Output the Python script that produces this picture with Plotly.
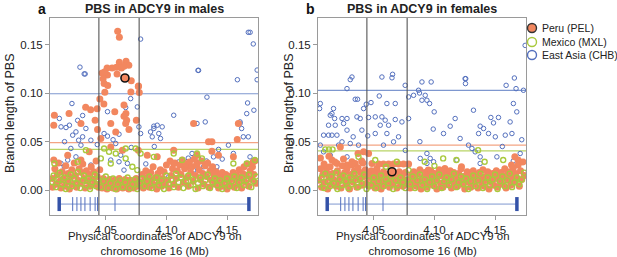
import plotly.graph_objects as go

# ---------------- data (Mb, PBS) ----------------
X_RANGE = [4.004, 4.1755]
Y_RANGE = [-0.0258, 0.1778]
x_ticks = [4.05, 4.10, 4.15]
y_ticks = [0.00, 0.05, 0.10, 0.15]
region_bounds = [4.0443, 4.0775]

# significance thresholds (PEL, MXL, CHB)
male_thresholds = [0.049, 0.042, 0.0995]
female_thresholds = [0.0464, 0.0405, 0.103]

gene_span = [4.0116, 4.168]
gene_exons = [4.0227, 4.0262, 4.0295, 4.0328, 4.0371, 4.0412, 4.0432, 4.0576]

male_lead = (4.0658, 0.1158)
female_lead = (4.065, 0.0189)

males_pel = [
    (4.0598, 0.164), (4.0612, 0.158), (4.0612, 0.132), (4.0667, 0.133), (4.069, 0.129),
    (4.0588, 0.127), (4.0629, 0.126), (4.0552, 0.126), (4.0511, 0.126), (4.065, 0.128),
    (4.047, 0.121), (4.0514, 0.119), (4.0593, 0.120), (4.071, 0.113), (4.0478, 0.115),
    (4.0486, 0.110), (4.0516, 0.108), (4.077, 0.1075), (4.0707, 0.1013), (4.0776, 0.1007),
    (4.0492, 0.101), (4.0492, 0.1223), (4.0768, 0.107), (4.0451, 0.094), (4.0484, 0.089),
    (4.0334, 0.0856), (4.0375, 0.083), (4.0197, 0.079), (4.0429, 0.084), (4.0574, 0.081),
    (4.065, 0.088), (4.0666, 0.079), (4.0076, 0.0773), (4.0412, 0.072), (4.065, 0.0763),
    (4.0672, 0.072), (4.0752, 0.072), (4.0071, 0.067), (4.0295, 0.0688), (4.0432, 0.0626),
    (4.0541, 0.0688), (4.0664, 0.0688), (4.0691, 0.0626), (4.0582, 0.0601), (4.0541, 0.0446),
    (4.0637, 0.0412), (4.0459, 0.0533), (4.0363, 0.0395), (4.0295, 0.031), (4.0186, 0.036),
    (4.0071, 0.031), (4.0768, 0.0412), (4.106, 0.0412), (4.0842, 0.036), (4.0924, 0.0343),
    (4.106, 0.0275), (4.117, 0.024), (4.1252, 0.0275), (4.1347, 0.0498), (4.1375, 0.0498),
    (4.1429, 0.036), (4.1552, 0.0343), (4.1716, 0.0292), (4.1593, 0.0688), (4.1224, 0.0688),
    (4.1584, 0.0522), (4.1252, 0.036), (4.1375, 0.040),
    # dense band
    (4.006, 0.012), (4.006, 0.003), (4.008, 0.022), (4.009, 0.006), (4.010, 0.016), (4.011, 0.028),
    (4.012, 0.009), (4.013, 0.002), (4.014, 0.019), (4.015, 0.012), (4.016, 0.004), (4.017, 0.025),
    (4.018, 0.008), (4.019, 0.017), (4.020, 0.001), (4.021, 0.013), (4.022, 0.021), (4.023, 0.006),
    (4.024, 0.028), (4.025, 0.015), (4.026, 0.003), (4.027, 0.010), (4.028, 0.022), (4.029, 0.007),
    (4.030, 0.018), (4.031, 0.027), (4.032, 0.012), (4.033, 0.002), (4.034, 0.020), (4.035, 0.009),
    (4.036, 0.016), (4.037, 0.004), (4.038, 0.024), (4.039, 0.011), (4.040, 0.019), (4.041, 0.006),
    (4.042, 0.030), (4.043, 0.014), (4.044, 0.003), (4.045, 0.021),
    (4.046, 0.008), (4.047, 0.002), (4.048, 0.012), (4.049, 0.005), (4.050, 0.009), (4.051, 0.001),
    (4.052, 0.006), (4.053, 0.011), (4.054, 0.003), (4.055, 0.008), (4.056, 0.002), (4.057, 0.010),
    (4.058, 0.005), (4.059, 0.001), (4.060, 0.007), (4.061, 0.012), (4.062, 0.004), (4.063, 0.009),
    (4.064, 0.002), (4.065, 0.006), (4.066, 0.011), (4.067, 0.003), (4.068, 0.008), (4.069, 0.001),
    (4.070, 0.010), (4.071, 0.005), (4.072, 0.009), (4.073, 0.002), (4.074, 0.007), (4.075, 0.012),
    (4.076, 0.004), (4.077, 0.009),
    (4.079, 0.006), (4.080, 0.016), (4.081, 0.002), (4.082, 0.011), (4.083, 0.020), (4.084, 0.007),
    (4.085, 0.014), (4.086, 0.003), (4.087, 0.018), (4.088, 0.009), (4.089, 0.024), (4.090, 0.005),
    (4.091, 0.013), (4.092, 0.001), (4.093, 0.017), (4.094, 0.008), (4.095, 0.021), (4.096, 0.004),
    (4.097, 0.012), (4.098, 0.019), (4.099, 0.006), (4.100, 0.026), (4.101, 0.010), (4.102, 0.002),
    (4.103, 0.030), (4.104, 0.015), (4.105, 0.022), (4.106, 0.006), (4.107, 0.028), (4.108, 0.012),
    (4.109, 0.020), (4.110, 0.003), (4.111, 0.026), (4.112, 0.016), (4.113, 0.031), (4.114, 0.008),
    (4.115, 0.022), (4.116, 0.027), (4.117, 0.013), (4.118, 0.004), (4.119, 0.029), (4.120, 0.018),
    (4.121, 0.024), (4.122, 0.009), (4.123, 0.032), (4.124, 0.015), (4.125, 0.026), (4.126, 0.002),
    (4.127, 0.021), (4.128, 0.011), (4.129, 0.030), (4.130, 0.017), (4.131, 0.006), (4.132, 0.025),
    (4.133, 0.014), (4.134, 0.028), (4.135, 0.003), (4.136, 0.020), (4.137, 0.010), (4.138, 0.024),
    (4.139, 0.016), (4.140, 0.006), (4.141, 0.019), (4.142, 0.012), (4.143, 0.002), (4.144, 0.015),
    (4.145, 0.008), (4.146, 0.018), (4.147, 0.004), (4.148, 0.011), (4.149, 0.016), (4.150, 0.001),
    (4.151, 0.009), (4.152, 0.014), (4.153, 0.005), (4.154, 0.012), (4.155, 0.018), (4.156, 0.003),
    (4.157, 0.010), (4.158, 0.015), (4.159, 0.006), (4.160, 0.021), (4.161, 0.012), (4.162, 0.002),
    (4.163, 0.017), (4.164, 0.024), (4.165, 0.008), (4.166, 0.015), (4.167, 0.027), (4.168, 0.004),
    (4.169, 0.020), (4.170, 0.011), (4.171, 0.024), (4.172, 0.016), (4.173, 0.030), (4.174, 0.007),
]

males_mxl = [
    (4.0486, 0.043), (4.0527, 0.0395), (4.0582, 0.0378), (4.0664, 0.043), (4.0746, 0.043),
    (4.0336, 0.0412), (4.0459, 0.0327), (4.0541, 0.0275), (4.0664, 0.0327), (4.0719, 0.024),
    (4.076, 0.0206), (4.0787, 0.0378), (4.0896, 0.0343), (4.106, 0.0378), (4.1129, 0.031),
    (4.1252, 0.0378), (4.1293, 0.0327), (4.1552, 0.0275), (4.1662, 0.0275), (4.173, 0.031),
    (4.0076, 0.0275), (4.0268, 0.0292),
    (4.006, 0.008), (4.007, 0.015), (4.009, 0.003), (4.011, 0.011), (4.012, 0.018), (4.014, 0.006),
    (4.016, 0.013), (4.017, 0.001), (4.019, 0.009), (4.021, 0.016), (4.022, 0.004), (4.024, 0.012),
    (4.026, 0.007), (4.027, 0.019), (4.029, 0.002), (4.031, 0.010), (4.032, 0.015), (4.034, 0.005),
    (4.036, 0.012), (4.037, 0.001), (4.039, 0.008), (4.041, 0.016), (4.042, 0.004), (4.044, 0.011),
    (4.046, 0.003), (4.048, 0.009), (4.050, 0.014), (4.052, 0.002), (4.054, 0.007), (4.056, 0.012),
    (4.058, 0.001), (4.060, 0.006), (4.062, 0.010), (4.064, 0.003), (4.066, 0.008), (4.068, 0.013),
    (4.070, 0.002), (4.072, 0.006), (4.074, 0.011), (4.076, 0.001), (4.078, 0.007), (4.080, 0.012),
    (4.082, 0.004), (4.084, 0.009), (4.086, 0.014), (4.088, 0.002), (4.090, 0.008), (4.092, 0.013),
    (4.094, 0.005), (4.096, 0.010), (4.098, 0.001), (4.100, 0.015), (4.102, 0.006), (4.104, 0.011),
    (4.106, 0.003), (4.108, 0.017), (4.110, 0.008), (4.112, 0.013), (4.114, 0.002), (4.116, 0.009),
    (4.118, 0.015), (4.120, 0.005), (4.122, 0.011), (4.124, 0.001), (4.126, 0.007), (4.128, 0.013),
    (4.130, 0.004), (4.132, 0.010), (4.134, 0.016), (4.136, 0.002), (4.138, 0.008), (4.140, 0.012),
    (4.142, 0.005), (4.144, 0.010), (4.146, 0.001), (4.148, 0.007), (4.150, 0.012), (4.152, 0.004),
    (4.154, 0.009), (4.156, 0.014), (4.158, 0.002), (4.160, 0.008), (4.162, 0.013), (4.164, 0.005),
    (4.166, 0.010), (4.168, 0.016), (4.170, 0.003), (4.172, 0.009), (4.174, 0.014),
]

males_chb = [
    (4.0287, 0.127), (4.0322, 0.120), (4.033, 0.120), (4.0787, 0.156), (4.126, 0.1237),
    (4.1265, 0.1237), (4.1675, 0.163), (4.169, 0.163), (4.1716, 0.151), (4.1748, 0.124),
    (4.1748, 0.114), (4.1585, 0.114), (4.1334, 0.096), (4.0221, 0.0894), (4.0117, 0.074),
    (4.0268, 0.072), (4.0309, 0.077), (4.0514, 0.081), (4.0664, 0.0853), (4.0705, 0.0945),
    (4.076, 0.0859), (4.106, 0.0773), (4.132, 0.0704), (4.1662, 0.079), (4.1721, 0.0825),
    (4.1607, 0.0704), (4.1669, 0.090), (4.0896, 0.066), (4.0131, 0.0653), (4.0172, 0.0646),
    (4.020, 0.067), (4.0227, 0.0567), (4.0254, 0.0601), (4.0276, 0.0515), (4.0309, 0.055),
    (4.0336, 0.0636), (4.0377, 0.0515), (4.0295, 0.0464), (4.0486, 0.0584), (4.0514, 0.0557),
    (4.0609, 0.0577), (4.0582, 0.0481), (4.0623, 0.036), (4.0678, 0.0275), (4.065, 0.0206),
    (4.0773, 0.0653), (4.0787, 0.0584), (4.0869, 0.0601), (4.0896, 0.0636), (4.0924, 0.067),
    (4.0937, 0.0584), (4.0883, 0.055), (4.0951, 0.0533), (4.0965, 0.0653), (4.1252, 0.0688),
    (4.1211, 0.0378), (4.1265, 0.0327), (4.1306, 0.024), (4.1224, 0.0206), (4.1511, 0.0464),
    (4.1552, 0.0378), (4.1634, 0.055), (4.1675, 0.055), (4.1607, 0.0688), (4.162, 0.0636),
    (4.0131, 0.0275), (4.0158, 0.024), (4.0186, 0.031), (4.0254, 0.0343), (4.0377, 0.0258),
    (4.0541, 0.031), (4.0609, 0.0292), (4.1019, 0.0137), (4.117, 0.0292), (4.1388, 0.0343),
    (4.1416, 0.024), (4.1689, 0.0343), (4.0160, 0.0500), (4.0212, 0.0430), (4.0430, 0.0470),
    (4.0560, 0.0520), (4.0710, 0.0440), (4.0900, 0.0450), (4.1100, 0.0290), (4.1150, 0.0220),
    (4.1330, 0.0300), (4.1460, 0.0320), (4.1430, 0.0420), (4.1180, 0.0330), (4.0830, 0.0270),
]

females_pel = [
    (4.0224, 0.0446), (4.037, 0.0378), (4.0416, 0.0395), (4.0457, 0.0378), (4.0155, 0.031),
    (4.0197, 0.0275), (4.010, 0.024), (4.0279, 0.0258), (4.032, 0.0292), (4.0347, 0.0275),
    (4.058, 0.0268), (4.0622, 0.0268), (4.0663, 0.0268), (4.0704, 0.0268), (4.0745, 0.0268),
    (4.0787, 0.0268), (4.0485, 0.0275), (4.0526, 0.0223), (4.169, 0.031), (4.1663, 0.0343),
    (4.1635, 0.0258), (4.1223, 0.024), (4.1086, 0.0223), (4.0949, 0.0206), (4.0540, 0.0268),
    (4.0060, 0.0330), (4.0130, 0.0350), (4.0250, 0.0320), (4.0400, 0.0300),
    (4.005, 0.010), (4.006, 0.022), (4.007, 0.003), (4.008, 0.016), (4.009, 0.027), (4.010, 0.008),
    (4.011, 0.019), (4.012, 0.001), (4.013, 0.013), (4.014, 0.024), (4.015, 0.006), (4.016, 0.017),
    (4.017, 0.011), (4.018, 0.029), (4.019, 0.004), (4.020, 0.020), (4.021, 0.009), (4.022, 0.015),
    (4.023, 0.002), (4.024, 0.025), (4.025, 0.012), (4.026, 0.018), (4.027, 0.006), (4.028, 0.022),
    (4.029, 0.010), (4.030, 0.001), (4.031, 0.016), (4.032, 0.026), (4.033, 0.008), (4.034, 0.020),
    (4.035, 0.013), (4.036, 0.003), (4.037, 0.023), (4.038, 0.011), (4.039, 0.018), (4.040, 0.005),
    (4.041, 0.028), (4.042, 0.014), (4.043, 0.021), (4.044, 0.007), (4.045, 0.017),
    (4.046, 0.004), (4.047, 0.013), (4.048, 0.020), (4.049, 0.007), (4.050, 0.016), (4.051, 0.002),
    (4.052, 0.011), (4.053, 0.018), (4.054, 0.006), (4.055, 0.014), (4.056, 0.001), (4.057, 0.010),
    (4.058, 0.019), (4.059, 0.005), (4.060, 0.013), (4.061, 0.008), (4.062, 0.016), (4.063, 0.003),
    (4.064, 0.011), (4.065, 0.006), (4.066, 0.014), (4.067, 0.009), (4.068, 0.017), (4.069, 0.002),
    (4.070, 0.012), (4.071, 0.019), (4.072, 0.007), (4.073, 0.015), (4.074, 0.004), (4.075, 0.011),
    (4.076, 0.018), (4.077, 0.006),
    (4.079, 0.010), (4.080, 0.002), (4.081, 0.015), (4.082, 0.007), (4.083, 0.019), (4.084, 0.012),
    (4.085, 0.004), (4.086, 0.017), (4.087, 0.009), (4.088, 0.021), (4.089, 0.001), (4.090, 0.013),
    (4.091, 0.006), (4.092, 0.018), (4.093, 0.011), (4.094, 0.003), (4.095, 0.016), (4.096, 0.008),
    (4.097, 0.020), (4.098, 0.012), (4.099, 0.005), (4.100, 0.017), (4.101, 0.010), (4.102, 0.001),
    (4.103, 0.014), (4.104, 0.021), (4.105, 0.007), (4.106, 0.015), (4.107, 0.003), (4.108, 0.019),
    (4.109, 0.011), (4.110, 0.006), (4.111, 0.016), (4.112, 0.009), (4.113, 0.020), (4.114, 0.002),
    (4.115, 0.013), (4.116, 0.018), (4.117, 0.007), (4.118, 0.012), (4.119, 0.004), (4.120, 0.017),
    (4.121, 0.010), (4.122, 0.022), (4.123, 0.006), (4.124, 0.014), (4.125, 0.001), (4.126, 0.011),
    (4.127, 0.019), (4.128, 0.008), (4.129, 0.015), (4.130, 0.003), (4.131, 0.012), (4.132, 0.020),
    (4.133, 0.006), (4.134, 0.016), (4.135, 0.010), (4.136, 0.002), (4.137, 0.018), (4.138, 0.012),
    (4.139, 0.007), (4.140, 0.021), (4.141, 0.004), (4.142, 0.014), (4.143, 0.010), (4.144, 0.019),
    (4.145, 0.001), (4.146, 0.013), (4.147, 0.008), (4.148, 0.017), (4.149, 0.005), (4.150, 0.012),
    (4.151, 0.020), (4.152, 0.003), (4.153, 0.015), (4.154, 0.009), (4.155, 0.018), (4.156, 0.006),
    (4.157, 0.013), (4.158, 0.022), (4.159, 0.002), (4.160, 0.016), (4.161, 0.010), (4.162, 0.019),
    (4.163, 0.005), (4.164, 0.014), (4.165, 0.023), (4.166, 0.008), (4.167, 0.017), (4.168, 0.012),
    (4.169, 0.026), (4.170, 0.004), (4.171, 0.020), (4.172, 0.011), (4.173, 0.029), (4.174, 0.015),
]

females_mxl = [
    (4.010, 0.042), (4.013, 0.042), (4.016, 0.042), (4.0374, 0.0343), (4.0512, 0.031),
    (4.069, 0.0292), (4.0787, 0.0206), (4.092, 0.0292), (4.1072, 0.0327), (4.1181, 0.031),
    (4.136, 0.0412), (4.1414, 0.0292), (4.1567, 0.031), (4.0600, 0.0240), (4.1000, 0.0250),
    (4.005, 0.006), (4.007, 0.013), (4.009, 0.002), (4.010, 0.017), (4.012, 0.009), (4.014, 0.004),
    (4.015, 0.014), (4.017, 0.007), (4.019, 0.018), (4.020, 0.001), (4.022, 0.011), (4.024, 0.005),
    (4.025, 0.015), (4.027, 0.009), (4.029, 0.002), (4.030, 0.013), (4.032, 0.006), (4.034, 0.017),
    (4.035, 0.010), (4.037, 0.003), (4.039, 0.012), (4.040, 0.007), (4.042, 0.016), (4.044, 0.001),
    (4.046, 0.010), (4.048, 0.005), (4.050, 0.013), (4.052, 0.002), (4.054, 0.009), (4.056, 0.015),
    (4.058, 0.004), (4.060, 0.011), (4.062, 0.007), (4.064, 0.014), (4.066, 0.001), (4.068, 0.010),
    (4.070, 0.005), (4.072, 0.013), (4.074, 0.008), (4.076, 0.002), (4.078, 0.011), (4.080, 0.006),
    (4.082, 0.014), (4.084, 0.002), (4.086, 0.010), (4.088, 0.016), (4.090, 0.005), (4.092, 0.011),
    (4.094, 0.001), (4.096, 0.008), (4.098, 0.014), (4.100, 0.004), (4.102, 0.010), (4.104, 0.016),
    (4.106, 0.002), (4.108, 0.009), (4.110, 0.013), (4.112, 0.005), (4.114, 0.011), (4.116, 0.017),
    (4.118, 0.003), (4.120, 0.008), (4.122, 0.014), (4.124, 0.006), (4.126, 0.012), (4.128, 0.001),
    (4.130, 0.009), (4.132, 0.015), (4.134, 0.004), (4.136, 0.010), (4.138, 0.017), (4.140, 0.002),
    (4.142, 0.008), (4.144, 0.013), (4.146, 0.005), (4.148, 0.011), (4.150, 0.016), (4.152, 0.001),
    (4.154, 0.009), (4.156, 0.014), (4.158, 0.004), (4.160, 0.010), (4.162, 0.017), (4.164, 0.003),
    (4.166, 0.008), (4.168, 0.013), (4.170, 0.006), (4.172, 0.011), (4.174, 0.018),
]

females_chb = [
    (4.032, 0.1168), (4.0306, 0.1141), (4.0567, 0.1168), (4.0655, 0.1196), (4.065, 0.116),
    (4.0759, 0.1082), (4.0279, 0.1048), (4.0897, 0.1117), (4.0973, 0.1117), (4.1253, 0.1151),
    (4.1258, 0.1151), (4.1256, 0.110), (4.1659, 0.1158), (4.1673, 0.1048), (4.1734, 0.1031),
    (4.1748, 0.1495), (4.1591, 0.1082), (4.0869, 0.1031), (4.0924, 0.0979), (4.0897, 0.0928),
    (4.0938, 0.0928), (4.096, 0.0894), (4.0998, 0.0808), (4.0877, 0.1003), (4.0828, 0.0979),
    (4.0787, 0.0962), (4.0545, 0.0972), (4.0608, 0.0894), (4.0677, 0.0894), (4.0477, 0.0904),
    (4.0438, 0.0887), (4.0347, 0.0938), (4.0366, 0.0938), (4.0416, 0.0842), (4.0059, 0.0894),
    (4.0053, 0.0842), (4.0141, 0.0773), (4.0155, 0.079), (4.0168, 0.0842), (4.0177, 0.0739),
    (4.0238, 0.0739), (4.0279, 0.0739), (4.0361, 0.0756), (4.0388, 0.0739), (4.0457, 0.075),
    (4.0512, 0.0756), (4.0567, 0.0756), (4.0594, 0.0722), (4.0677, 0.0729), (4.0787, 0.0739),
    (4.1171, 0.0739), (4.1322, 0.0825), (4.1465, 0.075), (4.1528, 0.075), (4.1487, 0.0694),
    (4.1624, 0.0704), (4.1651, 0.0894), (4.1679, 0.0808), (4.1377, 0.066),
    (4.0086, 0.0567), (4.0127, 0.0567), (4.0155, 0.0567), (4.0196, 0.0567), (4.0059, 0.0464),
    (4.021, 0.0464), (4.0238, 0.0498), (4.0306, 0.0481), (4.0374, 0.0464), (4.0127, 0.067),
    (4.0182, 0.067), (4.0251, 0.0688), (4.0279, 0.0619), (4.0402, 0.0619), (4.0512, 0.0584),
    (4.0608, 0.0584), (4.0663, 0.0498), (4.058, 0.0464), (4.0704, 0.055), (4.0732, 0.0704),
    (4.0553, 0.067), (4.0622, 0.067), (4.1075, 0.0584), (4.1212, 0.0533), (4.1281, 0.0464),
    (4.1309, 0.043), (4.1336, 0.0395), (4.1377, 0.0343), (4.1364, 0.0584), (4.1446, 0.0584),
    (4.1405, 0.0636), (4.1502, 0.055), (4.1584, 0.0567), (4.1639, 0.0584), (4.0938, 0.0378),
    (4.0965, 0.0327), (4.0993, 0.0292), (4.0938, 0.0275), (4.0883, 0.0327), (4.1185, 0.031),
    (4.1377, 0.0275), (4.1515, 0.0343), (4.1707, 0.0378), (4.0141, 0.036), (4.0279, 0.0343),
    (4.0086, 0.0395), (4.0990, 0.0630), (4.1130, 0.0660), (4.1560, 0.0450), (4.1720, 0.0520),
    (4.0880, 0.0500), (4.0760, 0.0410), (4.0450, 0.0560), (4.0330, 0.0550), (4.1650, 0.0300),
]

# ---------------- styling ----------------
ORANGE = "#F2875F"
GREEN = "#A9C93D"
BLUE = "#5470BE"
LINE_BLUE = "#7E97CF"
LINE_ORANGE = "#F3A483"
LINE_GREEN = "#B8D466"
FONT = "Liberation Sans, Arial, sans-serif"

fig = go.Figure()

panels = [
    ("x", "y", males_pel, males_mxl, males_chb, male_thresholds, male_lead),
    ("x2", "y2", females_pel, females_mxl, females_chb, female_thresholds, female_lead),
]

for xa, ya, pel, mxl, chb, thr, lead in panels:
    fig.add_trace(go.Scatter(
        x=[p[0] for p in chb], y=[p[1] for p in chb], mode="markers", xaxis=xa, yaxis=ya,
        marker=dict(symbol="circle-open", size=4.5, color=BLUE, line=dict(width=1)),
        showlegend=False, hoverinfo="skip"))
    fig.add_trace(go.Scatter(
        x=[p[0] for p in pel], y=[p[1] for p in pel], mode="markers", xaxis=xa, yaxis=ya,
        marker=dict(symbol="circle", size=7, color=ORANGE, line=dict(width=0)),
        showlegend=False, hoverinfo="skip"))
    fig.add_trace(go.Scatter(
        x=[p[0] for p in mxl], y=[p[1] for p in mxl], mode="markers", xaxis=xa, yaxis=ya,
        marker=dict(symbol="circle-open", size=5, color=GREEN, line=dict(width=1.4)),
        showlegend=False, hoverinfo="skip"))
    # lead SNP highlighted
    fig.add_trace(go.Scatter(
        x=[lead[0]], y=[lead[1]], mode="markers", xaxis=xa, yaxis=ya,
        marker=dict(symbol="circle", size=8, color=ORANGE, line=dict(width=1.6, color="#111111")),
        showlegend=False, hoverinfo="skip"))
    # gene model
    fig.add_trace(go.Scatter(
        x=gene_span, y=[-0.0145, -0.0145], mode="lines", xaxis=xa, yaxis=ya,
        line=dict(color=LINE_BLUE, width=1), showlegend=False, hoverinfo="skip"))
    fig.add_trace(go.Scatter(
        x=gene_exons, y=[-0.0145] * len(gene_exons), mode="markers", xaxis=xa, yaxis=ya,
        marker=dict(symbol="line-ns", size=10, line=dict(width=1, color=BLUE)),
        showlegend=False, hoverinfo="skip"))
    fig.add_trace(go.Scatter(
        x=gene_span, y=[-0.0145, -0.0145], mode="markers", xaxis=xa, yaxis=ya,
        marker=dict(symbol="line-ns", size=10, line=dict(width=3.5, color="#3452A8")),
        showlegend=False, hoverinfo="skip"))
    # threshold lines
    for val, col in zip(thr, [LINE_ORANGE, LINE_GREEN, LINE_BLUE]):
        fig.add_shape(type="line", xref=xa, yref=ya, x0=X_RANGE[0], x1=X_RANGE[1],
                      y0=val, y1=val, line=dict(color=col, width=1.2), layer="below")
    for b in region_bounds:
        fig.add_shape(type="line", xref=xa, yref=ya, x0=b, x1=b, y0=Y_RANGE[0], y1=Y_RANGE[1],
                      line=dict(color="#555555", width=1.1))

axis_common = dict(
    range=X_RANGE, tickvals=x_ticks, ticktext=["4.05", "4.10", "4.15"],
    showgrid=False, zeroline=False, showline=True, linecolor="#9a9a9a", linewidth=1,
    mirror=True, ticks="outside", ticklen=4, tickcolor="#9a9a9a",
    tickfont=dict(size=11.5, color="#222222", family=FONT),
)
yaxis_common = dict(
    range=Y_RANGE, tickvals=y_ticks, ticktext=["0.00", "0.05", "0.10", "0.15"],
    showgrid=False, zeroline=False, showline=True, linecolor="#9a9a9a", linewidth=1,
    mirror=True, ticks="outside", ticklen=4, tickcolor="#9a9a9a",
    tickfont=dict(size=11.5, color="#222222", family=FONT),
)

W, H = 617, 257
dom_y = [1 - 215 / H, 1 - 18 / H]
fig.update_layout(
    width=W, height=H, margin=dict(l=0, r=0, t=0, b=0),
    paper_bgcolor="white", plot_bgcolor="white",
    font=dict(family=FONT, color="#222222"),
    xaxis=dict(domain=[50 / W, 258 / W], anchor="y", **axis_common),
    yaxis=dict(domain=dom_y, anchor="x", **yaxis_common),
    xaxis2=dict(domain=[318 / W, 526 / W], anchor="y2", **axis_common),
    yaxis2=dict(domain=dom_y, anchor="x2", **yaxis_common),
    showlegend=False,
)

ann = []
for cx, letter, lx, title, ytx in [
    (154, "a", 42, "PBS in ADCY9 in males", 10),
    (422, "b", 310, "PBS in ADCY9 in females", 289),
]:
    ann.append(dict(text="<b>" + title + "</b>", x=cx / W, y=1 - 9 / H, xref="paper", yref="paper",
                    showarrow=False, font=dict(size=12.5, family=FONT, color="#222222"),
                    xanchor="center", yanchor="middle"))
    ann.append(dict(text="<b>" + letter + "</b>", x=lx / W, y=1 - 9 / H, xref="paper", yref="paper",
                    showarrow=False, font=dict(size=14, family=FONT, color="#111111"),
                    xanchor="center", yanchor="middle"))
    ann.append(dict(text="Branch length of PBS", x=ytx / W, y=1 - 113 / H, xref="paper", yref="paper",
                    showarrow=False, textangle=-90, font=dict(size=12.5, family=FONT, color="#222222"),
                    xanchor="center", yanchor="middle"))
    ann.append(dict(text="Physical coordinates of ADCY9 on<br>chromosome 16 (Mb)", x=cx / W, y=1 - 243 / H,
                    xref="paper", yref="paper", showarrow=False,
                    font=dict(size=11.4, family=FONT, color="#222222"),
                    xanchor="center", yanchor="middle"))

legend_items = [
    ("Peru (PEL)", ORANGE, "#333333", 28),
    ("Mexico (MXL)", "white", GREEN, 42),
    ("East Asia (CHB)", "white", BLUE, 55),
]
for label, fill, edge, py in legend_items:
    fig.add_shape(type="circle", xref="paper", yref="paper",
                  xsizemode="pixel", ysizemode="pixel",
                  xanchor=532 / W, yanchor=1 - py / H,
                  x0=-4.5, x1=4.5, y0=-4.5, y1=4.5,
                  fillcolor=fill, line=dict(color=edge, width=1.4))
    ann.append(dict(text=label, x=540 / W, y=1 - py / H, xref="paper", yref="paper",
                    showarrow=False, xanchor="left", yanchor="middle",
                    font=dict(size=10.5, family=FONT, color="#222222")))

fig.update_layout(annotations=ann)
fig.write_html("out.html", config={"displayModeBar": False, "staticPlot": True},
               post_script="document.body.style.margin='0px';")
